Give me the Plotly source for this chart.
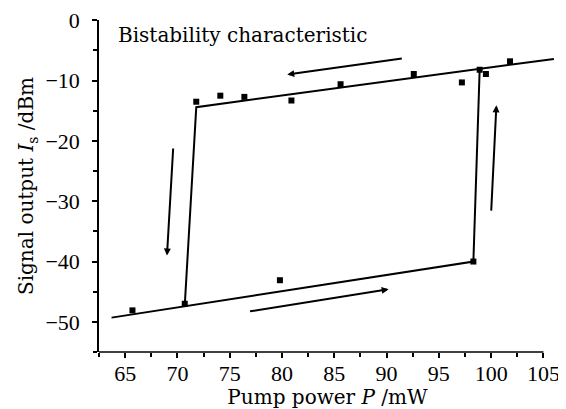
import plotly.graph_objects as go

# hysteresis branches (pump power mW, signal dBm)
lower_x = [63.7, 98.3, 98.9]
lower_y = [-49.3, -40.0, -8.2]
upper_x = [106.0, 71.8, 70.7]
upper_y = [-6.4, -14.4, -47.3]

# measured points
pts_x = [65.7, 70.7, 79.8, 98.3, 71.8, 74.1, 76.4, 80.9, 85.6, 92.6, 97.2, 98.9, 99.5, 101.8]
pts_y = [-48.1, -47.0, -43.1, -40.0, -13.5, -12.5, -12.7, -13.3, -10.6, -8.9, -10.3, -8.2, -8.9, -6.8]

# direction arrows: tail -> head
arr_x0 = [91.6, 69.6, 76.8, 100.0]
arr_y0 = [-6.3, -21.0, -48.3, -31.8]
arr_x1 = [80.5, 69.0, 90.2, 100.5]
arr_y1 = [-9.0, -39.0, -44.6, -14.1]

serif = "DejaVu Serif"
tickfont = dict(family="Liberation Serif", size=22, color="black")

fig = go.Figure()
for xs, ys in [(lower_x, lower_y), (upper_x, upper_y)]:
    fig.add_trace(go.Scatter(x=xs, y=ys, mode="lines",
                             line=dict(color="black", width=2), showlegend=False))
fig.add_trace(go.Scatter(x=pts_x, y=pts_y, mode="markers",
                         marker=dict(symbol="square", size=6, color="black"),
                         showlegend=False))

for x0, y0, x1, y1 in zip(arr_x0, arr_y0, arr_x1, arr_y1):
    fig.add_annotation(x=x1, y=y1, ax=x0, ay=y0, xref="x", yref="y",
                       axref="x", ayref="y", text="", showarrow=True,
                       arrowhead=2, arrowsize=0.7, arrowwidth=2, arrowcolor="black")

fig.add_annotation(x=64.1, y=-2.5, xref="x", yref="y", text="Bistability characteristic",
                   showarrow=False, xanchor="left", yanchor="middle",
                   font=dict(family=serif, size=20, color="black"))

# x axis line only up to 105 (the upper branch runs a little past it)
fig.add_shape(type="line", xref="x", yref="paper", x0=62.5, x1=105, y0=0, y1=0,
              line=dict(color="black", width=1.5))

fig.update_xaxes(range=[62.5, 106.2], tick0=65, dtick=5, showgrid=False, zeroline=False,
                 showline=False, ticks="outside", ticklen=5, tickwidth=1.5, tickcolor="black",
                 minor=dict(dtick=2.5, tick0=62.5, ticks="outside", ticklen=4, tickcolor="black"),
                 tickfont=tickfont, ticklabelstandoff=-3, automargin=False,
                 title=dict(text="Pump power <i>P</i> /mW", font=dict(family=serif, size=20, color="black"),
                            standoff=0))
fig.update_yaxes(range=[-55, 0.05], dtick=10, showgrid=False, zeroline=False,
                 showline=True, linecolor="black", linewidth=1.5,
                 ticks="outside", ticklen=5, tickwidth=1.5, tickcolor="black",
                 minor=dict(dtick=5, ticks="outside", ticklen=4, tickcolor="black"),
                 tickfont=tickfont, ticklabelstandoff=8, automargin=False,
                 title=dict(text="Signal output <i>I</i><sub>s</sub> /dBm",
                            font=dict(family=serif, size=20, color="black"), standoff=6))

# page body keeps an 8 px margin, so the figure is sized to fit inside the window
fig.update_layout(width=558, height=401, plot_bgcolor="white", paper_bgcolor="white",
                  margin=dict(l=91, r=10, t=12, b=57))

fig.write_html("out.html")
